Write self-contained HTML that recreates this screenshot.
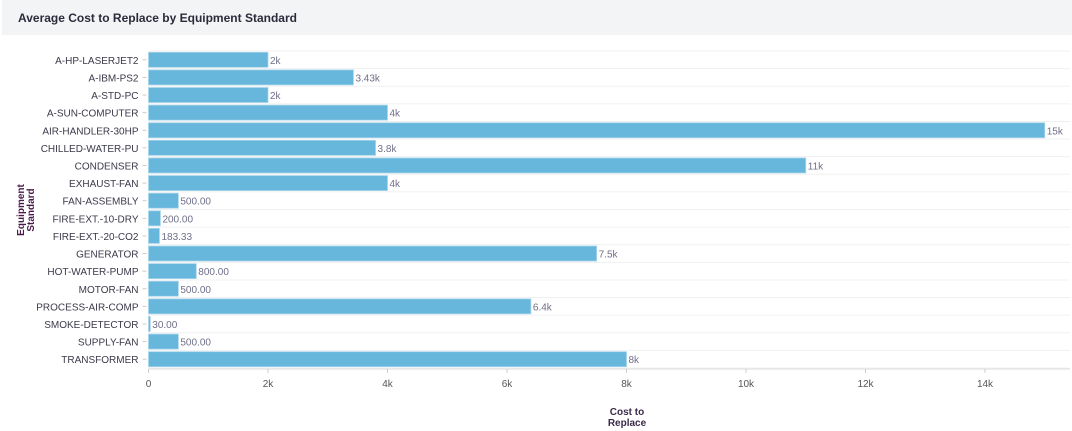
<!DOCTYPE html>
<html><head><meta charset="utf-8"><style>
body{margin:0;width:1072px;height:431px;background:#fff;font-family:"Liberation Sans",sans-serif;overflow:hidden}
#hdr{position:absolute;left:2px;top:0;width:1070px;height:35px;background:#f3f4f6}
#ttl{position:absolute;left:18px;top:11px;font-size:12px;color:#2b2b3b;font-weight:600}
</style></head><body>
<div id="hdr"></div>
<div id="ttl">Average Cost to Replace by Equipment Standard</div>
<svg id="c" width="1072" height="431" style="position:absolute;left:0;top:0"></svg>
<script>
const categories=["A-HP-LASERJET2","A-IBM-PS2","A-STD-PC","A-SUN-COMPUTER","AIR-HANDLER-30HP","CHILLED-WATER-PU","CONDENSER","EXHAUST-FAN","FAN-ASSEMBLY","FIRE-EXT.-10-DRY","FIRE-EXT.-20-CO2","GENERATOR","HOT-WATER-PUMP","MOTOR-FAN","PROCESS-AIR-COMP","SMOKE-DETECTOR","SUPPLY-FAN","TRANSFORMER"];
const values=[2000,3430,2000,4000,15000,3800,11000,4000,500,200,183.33,7500,800,500,6400,30,500,8000];
const tickValues=[0,2000,4000,6000,8000,10000,12000,14000];
const tickLabels=["0","2k","4k","6k","8k","10k","12k","14k"];
const svg=document.getElementById('c');const NS='http://www.w3.org/2000/svg';
const x0=148.5,pxPer=0.05975,topY=51,bottomY=368,rightX=1070;
const band=(bottomY-topY)/categories.length;
const X=v=>x0+v*pxPer, Y=i=>topY+i*band;
function mk(t,a,p){const e=document.createElementNS(NS,t);for(const k in a)e.setAttribute(k,a[k]);(p||svg).appendChild(e);return e;}
function fmt(v){if(v>=1000){let s=(v/1000).toFixed(2).replace(/\.?0+$/,'');return s+'k';}return v.toFixed(2);}
for(let i=0;i<=categories.length;i++){const g=mk('line',{x1:x0,x2:rightX,y1:Y(i),y2:Y(i),stroke:'#f0f0f0'});

}
categories.forEach((c,i)=>{
 const cy=Y(i)+band/2;
 const t=mk('text',{x:x0-10,y:cy+4,'text-anchor':'end','font-size':'10',fill:'#3a3a4a'});t.textContent=c;
 
 
 const tk=mk('line',{x1:x0-6,x2:x0-2,y1:cy,y2:cy,stroke:'#ccc'});
 
 
 const b=mk('rect',{x:x0,y:Y(i)+1.3,width:Math.max(X(values[i])-x0,1),height:band-2.6,fill:'#67b6dc',stroke:'#a9d6ec','stroke-width':'0.8'});
 
 
 const l=mk('text',{x:X(values[i])+2,y:cy+4,'font-size':'10',fill:'#6f6f8a'});l.textContent=fmt(values[i]);
 
 
});
const ax=mk('line',{x1:x0,x2:rightX,y1:bottomY+1,y2:bottomY+1,stroke:'#ddd'});


tickValues.forEach((v,i)=>{
 const tk=mk('line',{x1:X(v),x2:X(v),y1:bottomY+1,y2:bottomY+5,stroke:'#ccc'});
 
 
 const t=mk('text',{x:X(v),y:bottomY+19,'text-anchor':'middle','font-size':'10',fill:'#555'});t.textContent=tickLabels[i];
 
 
});
const xt=mk('text',{x:627,y:415,'text-anchor':'middle','font-size':'10','font-weight':'bold',fill:'#3a2a4a'});


mk('tspan',{x:627,dy:0},xt).textContent='Cost to';mk('tspan',{x:627,dy:11},xt).textContent='Replace';
const yt=mk('text',{transform:'translate(24,210) rotate(-90)','text-anchor':'middle','font-size':'10','font-weight':'bold',fill:'#4a1a4a'});


mk('tspan',{x:0,y:0},yt).textContent='Equipment';mk('tspan',{x:0,y:10},yt).textContent='Standard';
</script>
</body></html>
